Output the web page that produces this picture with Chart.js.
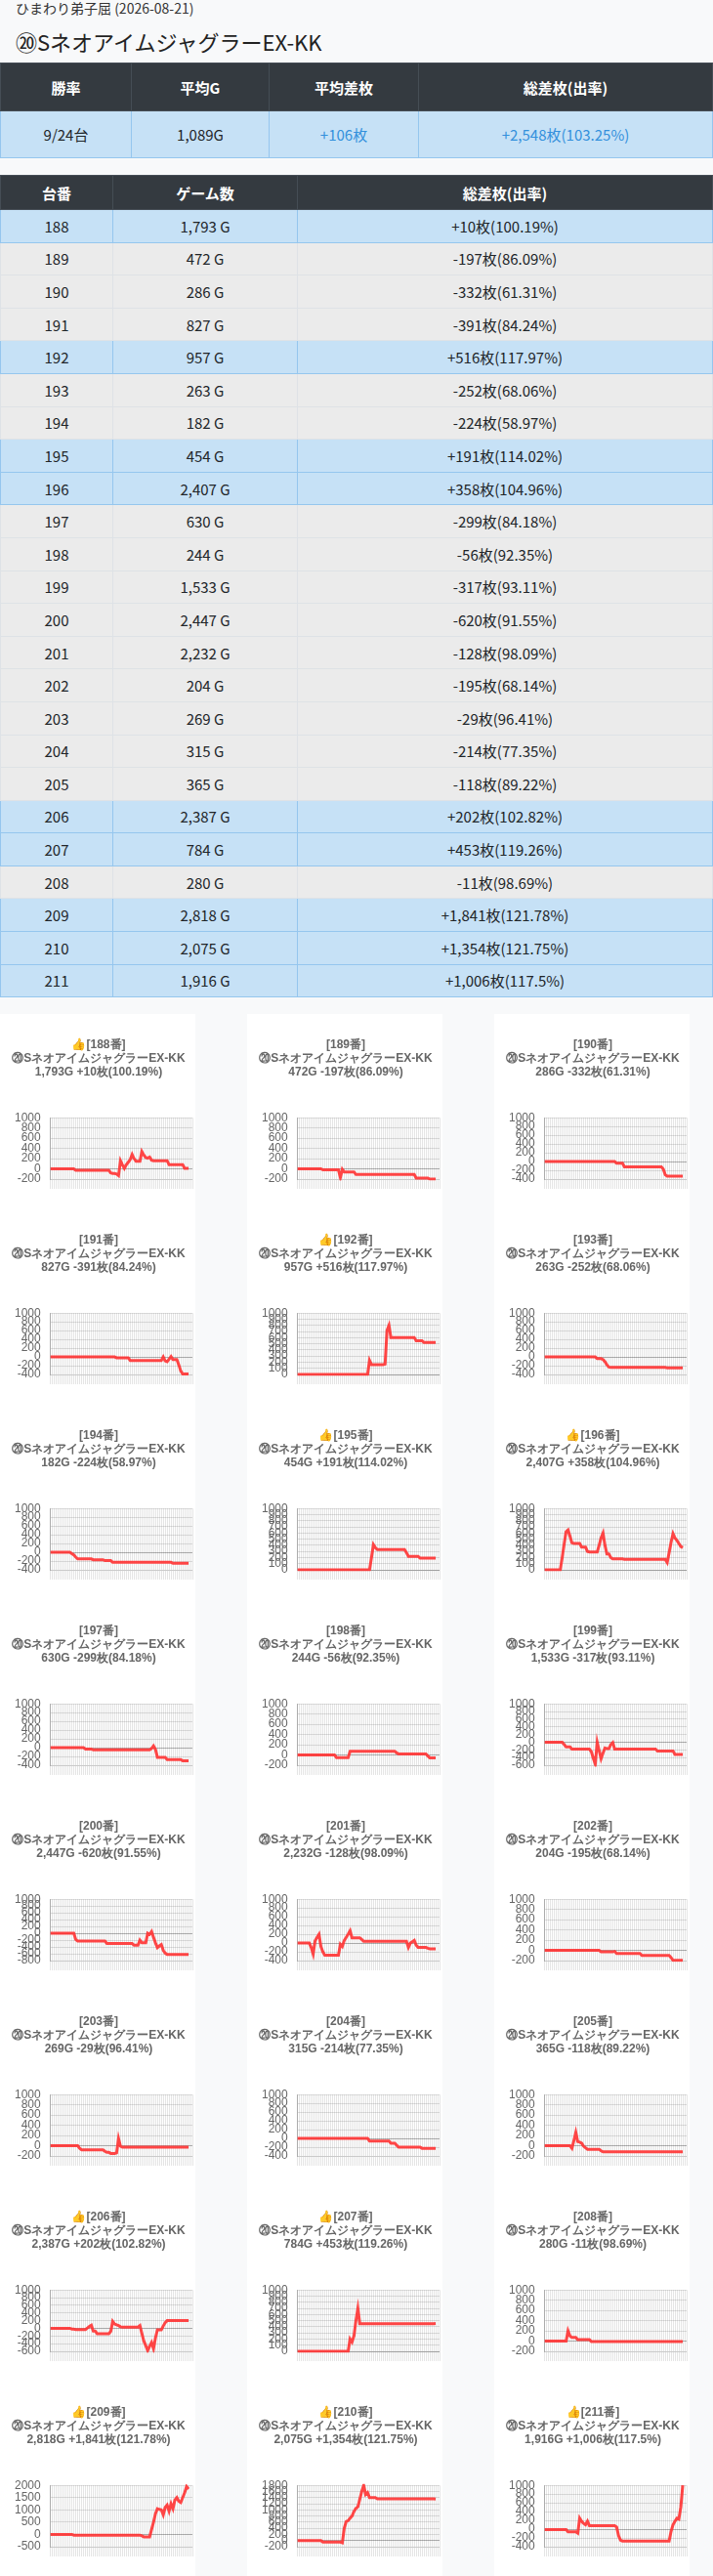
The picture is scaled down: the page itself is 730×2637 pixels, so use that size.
<!DOCTYPE html>
<html lang="ja">
<head>
<meta charset="utf-8">
<title>⑳SネオアイムジャグラーEX-KK</title>
<script src="https://cdn.jsdelivr.net/npm/chart.js@4.4.1/dist/chart.umd.min.js"></script>
<style>
  body { margin: 0; width: 730px; background: #f8f9fa; color: #212529;
         font-family: "Noto Sans CJK JP", "Noto Sans", sans-serif; }
  .shop { font-size: 14px; line-height: 17px; height: 17px; padding-left: 16px; color: #333; }
  h1 { margin: 0; font-size: 22px; font-weight: normal; line-height: 30px; height: 30px;
       padding: 10px 0 7px 16px; color: #222; }
  table { width: 730px; border-collapse: collapse; text-align: center; font-size: 15px; table-layout: fixed; }
  th { background: #343a40; color: #fff; font-weight: bold; border: 1px solid #454d55; padding: 0; }
  td { padding: 0; border: 1px solid #95c6ee; }
  .sum th { height: 48px; }
  .sum td { height: 47px; }
  .list { margin-top: 17px; }
  .list th { height: 34px; }
  .list td { height: 32.6px; }
  tr.plus td { background: #c6e1f6; border-color: #95c6ee; }
  tr.minus td { background: #ebebeb; border-color: #dee2e6; }
  .blue { color: #3390dc; }
  .grid { display: grid; grid-template-columns: 200px 200px 200px; column-gap: 53px; margin-top: 17px; }
  .card { background: #fff; width: 200px; height: 200px; }
</style>
</head>
<body>
<div class="shop">ひまわり弟子屈 (2026-08-21)</div>
<h1>⑳SネオアイムジャグラーEX-KK</h1>
<table class="sum">
  <colgroup><col style="width:134px"><col style="width:141px"><col style="width:153px"><col></colgroup>
  <tr><th>勝率</th><th>平均G</th><th>平均差枚</th><th>総差枚(出率)</th></tr>
  <tr class="plus"><td>9/24台</td><td>1,089G</td><td class="blue">+106枚</td><td class="blue">+2,548枚(103.25%)</td></tr>
</table>
<table class="list" id="list">
  <colgroup><col style="width:115px"><col style="width:189px"><col></colgroup>
  <tr><th>台番</th><th>ゲーム数</th><th>総差枚(出率)</th></tr>
</table>
<div class="grid" id="grid"></div>

<script>
const modelName = '⑳SネオアイムジャグラーEX-KK';

const machineNos = [188, 189, 190, 191, 192, 193, 194, 195, 196, 197, 198, 199,
                    200, 201, 202, 203, 204, 205, 206, 207, 208, 209, 210, 211];
const gameCounts = [1793, 472, 286, 827, 957, 263, 182, 454, 2407, 630, 244, 1533,
                    2447, 2232, 204, 269, 315, 365, 2387, 784, 280, 2818, 2075, 1916];
const diffCoins = [10, -197, -332, -391, 516, -252, -224, 191, 358, -299, -56, -317,
                   -620, -128, -195, -29, -214, -118, 202, 453, -11, 1841, 1354, 1006];
const payoutRates = [100.19, 86.09, 61.31, 84.24, 117.97, 68.06, 58.97, 114.02, 104.96, 84.18, 92.35, 93.11,
                     91.55, 98.09, 68.14, 96.41, 77.35, 89.22, 102.82, 119.26, 98.69, 121.78, 121.75, 117.5];

// time slots on the x axis (labels are not shown)
const timeSlots = [...Array(74).keys()];

// coin difference over the day, one array per machine
const s188 = [0,0,0,0,0,0,0,0,0,0,0,0,
  0,-30,-30,-30,-30,-30,-30,-30,-30,-30,-30,-30,
  -30,-30,-30,-30,-30,-30,-30,-80,-90,-90,-100,-130,
  160,80,10,80,130,180,280,200,150,150,150,340,
  270,220,210,230,170,160,160,160,160,160,160,160,
  160,80,80,80,80,80,80,80,80,10,10,10];
const s189 = [0,0,0,0,0,0,0,0,0,0,0,0,
  0,-20,-20,-20,-20,-20,-20,-20,-20,-20,-170,-10,
  -60,-60,-60,-60,-60,-60,-110,-110,-110,-110,-110,-110,
  -110,-110,-110,-110,-110,-110,-110,-110,-110,-110,-110,-110,
  -110,-110,-110,-110,-110,-110,-110,-110,-110,-110,-110,-110,
  -110,-180,-180,-180,-180,-180,-180,-180,-200,-200,-200,-200];
const s190 = [0,0,0,0,0,0,0,0,0,0,0,0,
  0,0,0,0,0,0,0,0,0,0,0,0,
  0,0,0,0,0,0,0,0,0,0,0,0,
  0,-40,-40,-40,-40,-120,-120,-120,-120,-120,-120,-120,
  -120,-120,-120,-120,-120,-120,-120,-120,-120,-120,-120,-120,
  -120,-170,-300,-335,-335,-335,-335,-335,-335,-335,-335,-335];
const s191 = [0,0,0,0,0,0,0,0,0,0,0,0,
  0,0,0,0,0,0,0,0,0,0,0,0,
  0,0,0,0,0,0,0,0,0,0,-20,-20,
  -20,-20,-20,-20,-20,-80,-80,-80,-80,-80,-80,-80,
  -80,-80,-80,-80,-80,-80,-80,-80,-80,-80,0,-90,
  -110,-50,10,-60,-60,-60,-180,-320,-390,-390,-390,-390];
const s192 = [0,0,0,0,0,0,0,0,0,0,0,0,
  0,0,0,0,0,0,0,0,0,0,0,0,
  0,0,0,0,0,0,0,0,0,0,0,0,
  0,230,160,160,160,160,160,160,160,170,720,800,
  600,600,600,600,600,600,600,600,600,600,600,600,
  600,550,550,550,550,520,520,520,520,520,520,520];
const s193 = [0,0,0,0,0,0,0,0,0,0,0,0,
  0,0,0,0,0,0,0,0,0,0,0,0,
  0,0,0,-40,-40,-40,-60,-110,-180,-230,-240,-240,
  -240,-240,-240,-240,-240,-240,-240,-240,-240,-240,-240,-240,
  -240,-240,-240,-240,-240,-240,-240,-240,-240,-240,-240,-240,
  -240,-240,-240,-252,-252,-252,-252,-252,-252,-252,-252,-252];
const s194 = [0,0,0,0,0,0,0,0,0,0,0,-30,
  -60,-110,-150,-150,-150,-150,-150,-150,-150,-150,-170,-170,
  -170,-170,-170,-170,-190,-190,-190,-190,-230,-230,-230,-230,
  -230,-230,-230,-230,-230,-230,-230,-230,-230,-230,-230,-230,
  -230,-230,-230,-230,-230,-230,-230,-230,-230,-230,-230,-230,
  -230,-230,-230,-250,-250,-250,-250,-250,-250,-250,-250,-250];
const s195 = [0,0,0,0,0,0,0,0,0,0,0,0,
  0,0,0,0,0,0,0,0,0,0,0,0,
  0,0,0,0,0,0,0,0,0,0,0,0,
  0,0,200,410,360,330,330,330,330,330,330,330,
  330,330,330,330,330,330,330,330,280,220,220,220,
  220,220,220,190,190,190,190,190,190,190,190,190];
const s196 = [0,0,0,0,0,0,0,0,0,200,420,620,
  650,550,440,430,430,430,430,370,370,370,300,290,
  290,290,290,290,400,520,600,400,260,260,200,180,
  180,180,180,180,180,170,170,170,170,170,170,170,
  170,170,170,170,170,170,170,170,170,170,170,170,
  170,170,170,120,280,450,590,520,480,430,380,360];
const s197 = [0,0,0,0,0,0,0,0,0,0,0,0,
  0,0,0,0,0,0,-30,-30,-30,-30,-50,-50,
  -50,-50,-50,-50,-50,-50,-50,-50,-50,-50,-50,-50,
  -50,-50,-50,-50,-50,-50,-50,-50,-50,-50,-50,-50,
  -50,-50,-50,-50,-20,40,-40,-220,-220,-220,-220,-220,
  -270,-270,-270,-270,-270,-270,-270,-270,-300,-300,-300,-300];
const s198 = [0,0,0,0,0,0,0,0,0,0,0,0,
  0,0,0,0,0,0,0,0,-50,-50,-50,-50,
  -50,-50,-50,70,70,70,70,70,70,70,70,70,
  70,70,70,70,70,70,70,70,70,70,70,70,
  70,70,70,40,20,20,20,20,20,20,20,20,
  20,20,20,20,20,20,20,-20,-55,-55,-55,-55];
const s199 = [0,0,0,0,0,0,0,0,0,0,-60,-120,
  -120,-120,-180,-180,-180,-180,-180,-180,-180,-180,-180,-180,
  -250,-420,-570,0,-220,-430,-280,-150,-170,-170,-60,-10,
  -180,-180,-180,-180,-180,-180,-180,-180,-180,-180,-180,-180,
  -180,-180,-180,-180,-180,-180,-180,-180,-180,-180,-230,-230,
  -230,-230,-230,-230,-230,-230,-230,-320,-320,-320,-320,-320];
const s200 = [0,0,0,0,0,0,0,0,0,0,0,0,
  0,-180,-230,-230,-230,-230,-230,-230,-230,-230,-230,-230,
  -230,-230,-230,-230,-230,-300,-300,-300,-300,-300,-300,-300,
  -300,-300,-300,-300,-300,-300,-300,-350,-350,-350,-200,-280,
  -280,-280,0,-30,50,-120,-280,-420,-370,-330,-500,-580,
  -620,-620,-620,-620,-620,-620,-620,-620,-620,-620,-620,-620];
const s201 = [0,0,0,0,0,0,0,-100,-250,50,130,200,
  -80,-200,-280,-280,-280,-280,-280,-280,-280,-280,-30,-80,
  60,130,200,280,120,120,120,120,120,80,40,40,
  40,40,40,40,40,40,40,40,40,40,40,40,
  40,40,40,40,40,40,40,40,40,-100,0,30,
  60,-50,-100,-100,-100,-100,-100,-120,-130,-130,-130,-130];
const s202 = [0,0,0,0,0,0,0,0,0,0,0,0,
  0,0,0,0,0,0,0,0,0,0,0,0,
  0,0,0,0,0,-30,-30,-30,-30,-30,-30,-30,
  -20,-60,-60,-60,-60,-60,-60,-60,-60,-60,-60,-60,
  -60,-60,-100,-100,-100,-100,-100,-100,-100,-100,-100,-100,
  -100,-100,-100,-100,-100,-140,-195,-195,-195,-195,-195,-195];
const s203 = [0,0,0,0,0,0,0,0,0,0,0,0,
  0,0,0,-50,-80,-80,-80,-80,-80,-80,-80,-80,
  -80,-80,-80,-80,-110,-130,-130,-150,-150,-150,-140,140,
  -10,-30,-30,-30,-30,-30,-30,-30,-30,-30,-30,-30,
  -30,-30,-30,-30,-30,-30,-30,-30,-30,-30,-30,-30,
  -30,-30,-30,-30,-30,-30,-30,-30,-30,-30,-30,-30];
const s204 = [0,0,0,0,0,0,0,0,0,0,0,0,
  0,0,0,0,0,0,0,0,0,0,0,0,
  0,0,0,0,0,0,0,0,0,0,0,0,
  0,-60,-60,-60,-60,-60,-60,-60,-60,-60,-60,-60,
  -110,-110,-110,-160,-200,-200,-200,-200,-200,-200,-200,-200,
  -200,-200,-200,-200,-225,-225,-225,-225,-225,-225,-225,-225];
const s205 = [0,0,0,0,0,0,0,0,0,0,0,0,
  0,0,-50,100,260,80,70,50,-10,-40,-70,-70,
  -70,-70,-70,-70,-70,-100,-120,-120,-120,-120,-120,-120,
  -120,-120,-120,-120,-120,-120,-120,-120,-120,-120,-120,-120,
  -120,-120,-120,-120,-120,-120,-120,-120,-120,-120,-120,-120,
  -120,-120,-120,-120,-120,-120,-120,-120,-120,-120,-120,-118];
const s206 = [0,0,0,0,0,0,0,0,0,0,0,-20,
  -20,-30,-30,-30,-30,-30,-30,10,50,80,-70,-70,
  -140,-140,-140,-140,-140,-140,-140,-80,180,110,90,70,
  40,30,30,30,30,30,30,30,30,30,70,-130,
  -330,-450,-580,-470,-370,-530,-250,-40,-40,-40,60,150,
  200,200,200,200,200,200,200,200,200,200,200,202];
const s207 = [0,0,0,0,0,0,0,0,0,0,0,0,
  0,0,0,0,0,0,0,0,0,0,0,0,
  0,0,0,200,150,250,500,700,450,450,450,450,
  450,450,450,450,450,450,450,450,450,450,450,450,
  450,450,450,450,450,450,450,450,450,450,450,450,
  450,450,450,450,450,450,450,450,450,450,450,453];
const s208 = [0,0,0,0,0,0,0,0,0,0,0,0,
  200,100,70,70,70,30,30,30,30,30,30,30,
  -10,-10,-10,-10,-10,-10,-10,-10,-10,-10,-10,-10,
  -10,-10,-10,-10,-10,-10,-10,-10,-10,-10,-10,-10,
  -10,-10,-10,-10,-10,-10,-10,-10,-10,-10,-10,-10,
  -10,-10,-10,-10,-10,-10,-10,-10,-10,-10,-10,-11];
const s209 = [0,0,0,0,0,0,0,0,0,0,0,0,
  -30,-30,-30,-30,-30,-30,-30,-30,-30,-30,-30,-30,
  -30,-30,-30,-30,-30,-30,-30,-30,-30,-30,-30,-30,
  -30,-30,-30,-30,-30,-30,-30,-30,-30,-30,-30,-60,
  -100,-100,-100,-100,200,500,850,1050,1020,1000,800,1100,
  1200,950,1250,1050,1400,1500,1350,1300,1500,1700,1950,1850];
const s210 = [0,0,0,0,0,0,0,0,0,0,0,0,
  0,-50,-50,-50,-50,-50,-50,-50,-50,-50,-50,-70,
  400,620,650,730,800,950,1050,1100,1350,1600,1800,1500,
  1560,1400,1400,1400,1400,1360,1360,1360,1360,1360,1360,1360,
  1360,1360,1360,1360,1360,1360,1360,1360,1360,1360,1360,1360,
  1360,1360,1360,1360,1360,1360,1360,1360,1360,1360,1360,1354];
const s211 = [-10,-10,-10,-10,-10,-10,-10,-10,-10,-10,-10,-10,
  -60,-60,-60,-60,-60,-90,250,180,130,100,180,80,
  80,80,80,80,80,80,80,80,80,80,80,80,
  80,50,-150,-250,-270,-270,-270,-270,-270,-270,-270,-270,
  -270,-270,-270,-270,-270,-270,-270,-270,-270,-270,-270,-270,
  -270,-270,-270,-270,-270,-50,100,180,250,230,500,1000];

const seriesList = [s188, s189, s190, s191, s192, s193, s194, s195, s196, s197, s198, s199,
                    s200, s201, s202, s203, s204, s205, s206, s207, s208, s209, s210, s211];

function fmt(n) {
  return n.toLocaleString('en-US');
}
function signed(n) {
  return (n > 0 ? '+' : '') + fmt(n);
}

// list table
var list = document.getElementById('list');
for (var i = 0; i < machineNos.length; i++) {
  var tr = document.createElement('tr');
  tr.className = diffCoins[i] > 0 ? 'plus' : 'minus';
  tr.innerHTML = '<td>' + machineNos[i] + '</td><td>' + fmt(gameCounts[i]) + ' G</td><td>' +
    signed(diffCoins[i]) + '枚(' + payoutRates[i] + '%)</td>';
  list.appendChild(tr);
}

// small charts
var grid = document.getElementById('grid');
for (var i = 0; i < machineNos.length; i++) {
  var card = document.createElement('div');
  card.className = 'card';
  var canvas = document.createElement('canvas');
  canvas.width = 200;
  canvas.height = 200;
  card.appendChild(canvas);
  grid.appendChild(card);

  var head = (diffCoins[i] > 0 ? '👍' : '') + '[' + machineNos[i] + '番]';
  var sub = fmt(gameCounts[i]) + 'G ' + signed(diffCoins[i]) + '枚(' + payoutRates[i] + '%)';

  new Chart(canvas, {
    type: 'line',
    data: {
      labels: timeSlots,
      datasets: [{
        data: seriesList[i],
        borderColor: 'rgba(255, 50, 50, 0.9)',
        borderWidth: 3,
        pointRadius: 0,
        fill: false,
        tension: 0
      }]
    },
    options: {
      responsive: false,
      animation: false,
      events: [],
      layout: { padding: { left: 5, right: 3, top: 0, bottom: 21 } },
      plugins: {
        legend: { display: false },
        tooltip: { enabled: false },
        title: {
          display: true,
          text: [head, modelName, sub],
          color: '#666',
          font: { size: 12, weight: 'bold', lineHeight: 1.2 },
          padding: { top: 24, bottom: 39 }
        }
      },
      scales: {
        x: {
          ticks: { display: false },
          grid: { color: 'rgba(0,0,0,0.1)', tickLength: 10 },
          border: { color: 'rgba(0,0,0,0.1)' }
        },
        y: {
          suggestedMin: 0,
          suggestedMax: 1000,
          ticks: {
            color: '#666',
            font: { size: 12, lineHeight: 0.5 },
            padding: 10,
            autoSkip: false,
            callback: function (v) { return String(v); }
          },
          grid: {
            drawTicks: false,
            color: function (c) {
              return c.tick && c.tick.value === 0 ? 'rgba(0,0,0,0.3)' : 'rgba(0,0,0,0.12)';
            }
          },
          border: { color: 'rgba(0,0,0,0.25)' }
        }
      }
    }
  });
}
</script>
</body>
</html>
